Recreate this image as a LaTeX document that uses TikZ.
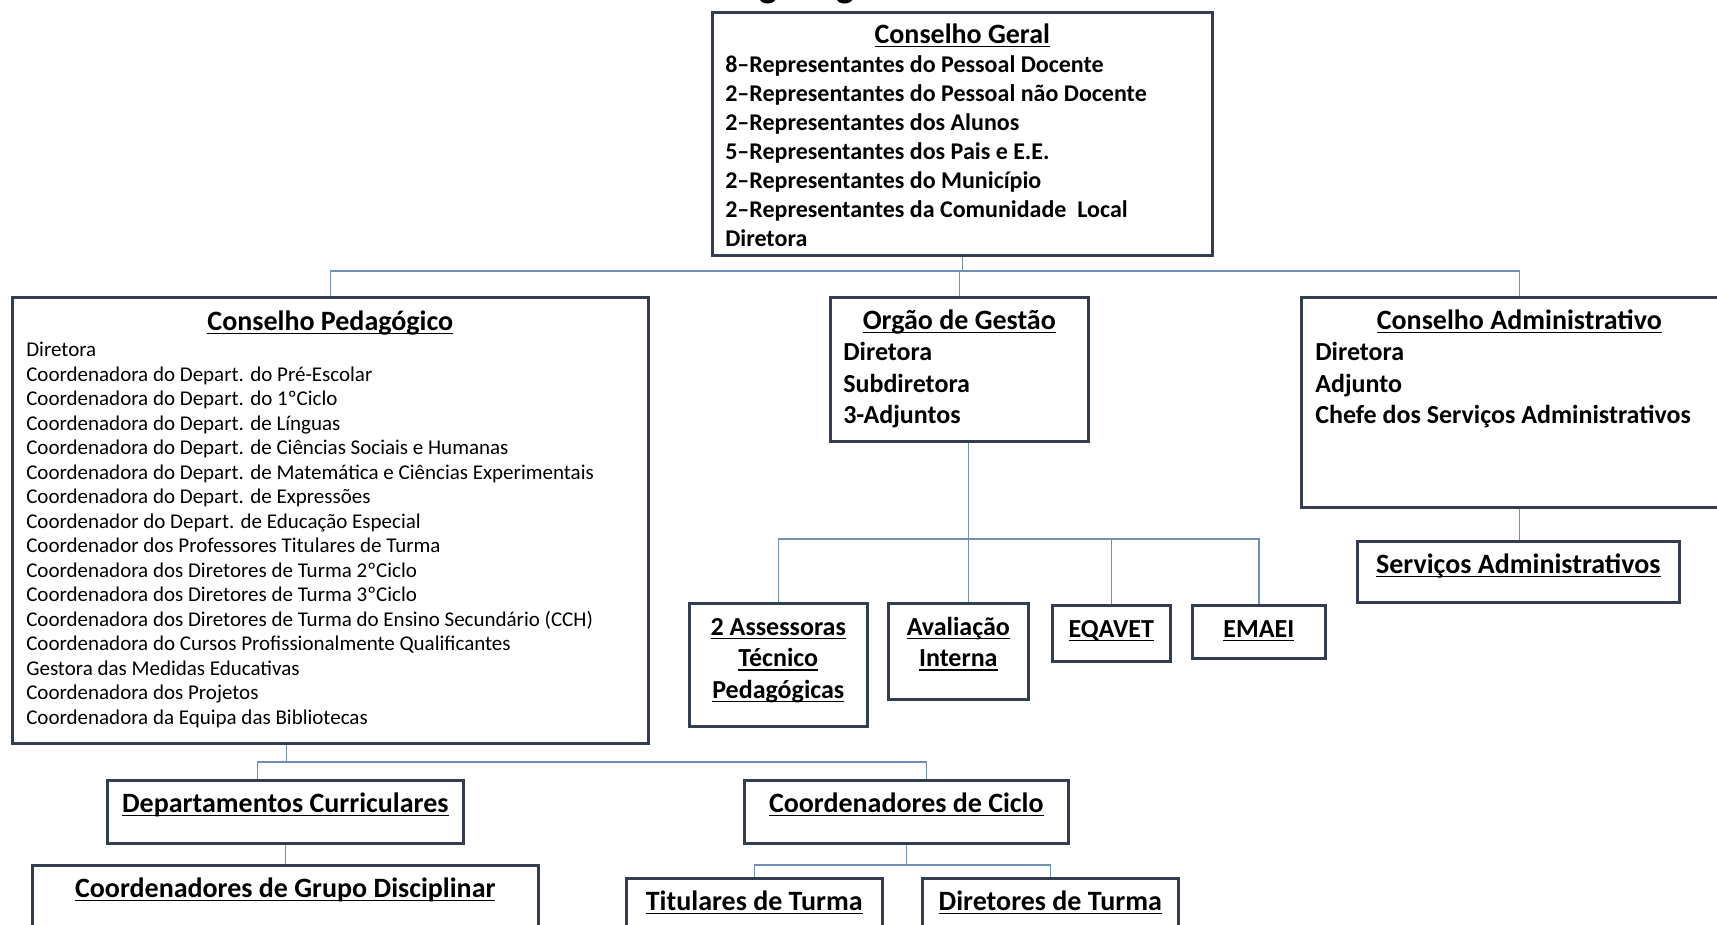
\documentclass[tikz,border=0pt]{standalone}
\usepackage{fontspec}
\setmainfont{Carlito}
\definecolor{boxline}{HTML}{333F50}
\definecolor{linkblue}{HTML}{7090B8}
\newcommand{\topstrut}{\rule{0pt}{32pt}}
\newcommand{\titlefont}{\fontsize{28}{29}\selectfont\bfseries}
\newcommand{\boxbody}[3]{\parbox[c][#1][t]{#2}{#3}}
\newcommand{\sublinha}[1]{\leavevmode\setbox0\hbox{#1}\rlap{\rule[-4.1pt]{\wd0}{1.6pt}}\box0}

\begin{document}
\begin{tikzpicture}[x=1pt,y=-1pt,
   box/.style={draw=boxline,line width=2.6pt,fill=white,anchor=north west,inner ysep=0pt,inner xsep=0pt},
   link/.style={draw=linkblue,line width=1.6pt},
   big/.style={font=\fontsize{24}{29}\selectfont\bfseries},
   mid/.style={font=\fontsize{26}{31.5}\selectfont\bfseries},
   small/.style={font=\fontsize{21}{24.5}\selectfont}]
 \useasboundingbox (0,0) rectangle (1717,925);
 \fill[white] (0,0) rectangle (1717,925);
 \node[anchor=base,font=\fontsize{38}{40}\selectfont\bfseries] (titulo) at (828,-2) {Organograma};

 \node[box,big,inner xsep=13pt] (geral) at (711,11) {\boxbody{243pt}{474pt}{%
   \makebox[\hsize]{\rule{0pt}{31pt}\titlefont\sublinha{Conselho Geral}}\\[0pt]
   8–Representantes do Pessoal Docente\\
   2–Representantes do Pessoal não Docente\\
   2–Representantes dos Alunos\\
   5–Representantes dos Pais e E.E.\\
   2–Representantes do Município\\
   2–Representantes da Comunidade\ \ Local\\
   Diretora}};

 \node[box,small,inner xsep=14pt] (pedag) at (11,296) {\boxbody{446pt}{608pt}{%
   \makebox[\hsize]{\rule{0pt}{33pt}\titlefont\sublinha{Conselho Pedagógico}}\\[2pt]
   Diretora\\
   Coordenadora do Depart. do Pré-Escolar\\
   Coordenadora do Depart. do 1ºCiclo\\
   Coordenadora do Depart. de Línguas\\
   Coordenadora do Depart. de Ciências Sociais e Humanas\\
   Coordenadora do Depart. de Matemática e Ciências Experimentais\\
   Coordenadora do Depart. de Expressões\\
   Coordenador do Depart. de Educação Especial\\
   Coordenador dos Professores Titulares de Turma\\
   Coordenadora dos Diretores de Turma 2ºCiclo\\
   Coordenadora dos Diretores de Turma 3ºCiclo\\
   Coordenadora dos Diretores de Turma do Ensino Secundário (CCH)\\
   Coordenadora do Cursos Profissionalmente Qualificantes\\
   Gestora das Medidas Educativas\\
   Coordenadora dos Projetos\\
   Coordenadora da Equipa das Bibliotecas}};

 \node[box,mid,inner xsep=13pt] (gestao) at (829,296) {\boxbody{144pt}{232pt}{%
   \makebox[\hsize]{\topstrut\titlefont\sublinha{Orgão de Gestão}}\\
   Diretora\\
   Subdiretora\\
   3-Adjuntos}};

 \node[box,mid,inner xsep=14pt] (admin) at (1300,296) {\boxbody{210pt}{408pt}{%
   \makebox[\hsize]{\topstrut\titlefont\sublinha{Conselho Administrativo}}\\
   Diretora\\
   Adjunto\\
   Chefe dos Serviços Administrativos}};

 \node[box] (servicos) at (1356,540) {\boxbody{61pt}{322pt}{\centering\topstrut\titlefont\sublinha{Serviços Administrativos}}};

 \node[box,mid] (assessoras) at (688,602) {\boxbody{123pt}{178pt}{\centering\topstrut\sublinha{2 Assessoras}\\ \sublinha{Técnico}\\ \sublinha{Pedagógicas}}};
 \node[box,mid] (avaliacao) at (887,602) {\boxbody{96pt}{140pt}{\centering\topstrut\sublinha{Avaliação}\\ \sublinha{Interna}}};
 \node[box,mid] (eqavet) at (1051,604) {\boxbody{56pt}{118pt}{\centering\topstrut\sublinha{EQAVET}}};
 \node[box,mid] (emaei) at (1191,604) {\boxbody{53pt}{133pt}{\centering\topstrut\sublinha{EMAEI}}};

 \node[box] (departamentos) at (106,779) {\boxbody{63pt}{356pt}{\centering\topstrut\titlefont\sublinha{Departamentos Curriculares}}};
 \node[box] (ciclo) at (743,779) {\boxbody{63pt}{324pt}{\centering\topstrut\titlefont\sublinha{Coordenadores de Ciclo}}};
 \node[box] (grupo) at (31,864) {\boxbody{100pt}{506pt}{\centering\topstrut\titlefont\sublinha{Coordenadores de Grupo Disciplinar}}};
 \node[box] (titulares) at (625,877) {\boxbody{90pt}{256pt}{\centering\topstrut\titlefont\sublinha{Titulares de Turma}}};
 \node[box] (diretores) at (921,877) {\boxbody{90pt}{256pt}{\centering\topstrut\titlefont\sublinha{Diretores de Turma}}};

 \coordinate (barra1) at (0,271);
 \coordinate (barra2) at (0,539);
 \coordinate (barra3) at (0,762);
 \coordinate (barra4) at (0,865);

 \draw[link] (geral.south) -- (geral.south |- barra1);
 \draw[link] (pedag.north) |- (admin.north |- barra1) -- (admin.north);
 \draw[link] (gestao.north) -- (gestao.north |- barra1);
 \draw[link] (admin.south) -- (admin.south |- servicos.north);

 \draw[link] ([xshift=9pt]gestao.south) -- ([xshift=9pt]gestao.south |- avaliacao.north);
 \draw[link] (assessoras.north) |- (emaei.north |- barra2) -- (emaei.north);
 \draw[link] (eqavet.north) -- (eqavet.north |- barra2);

 \draw[link] ([xshift=-44pt]pedag.south) -- ([xshift=-44pt]pedag.south |- barra3);
 \draw[link] ([xshift=-28pt]departamentos.north) |- ([xshift=20pt]ciclo.north |- barra3) -- ([xshift=20pt]ciclo.north);
 \draw[link] (departamentos.south) -- (grupo.north);
 \draw[link] (ciclo.south) -- (ciclo.south |- barra4);
 \draw[link] (titulares.north) |- (diretores.north |- barra4) -- (diretores.north);
\end{tikzpicture}
\end{document}
